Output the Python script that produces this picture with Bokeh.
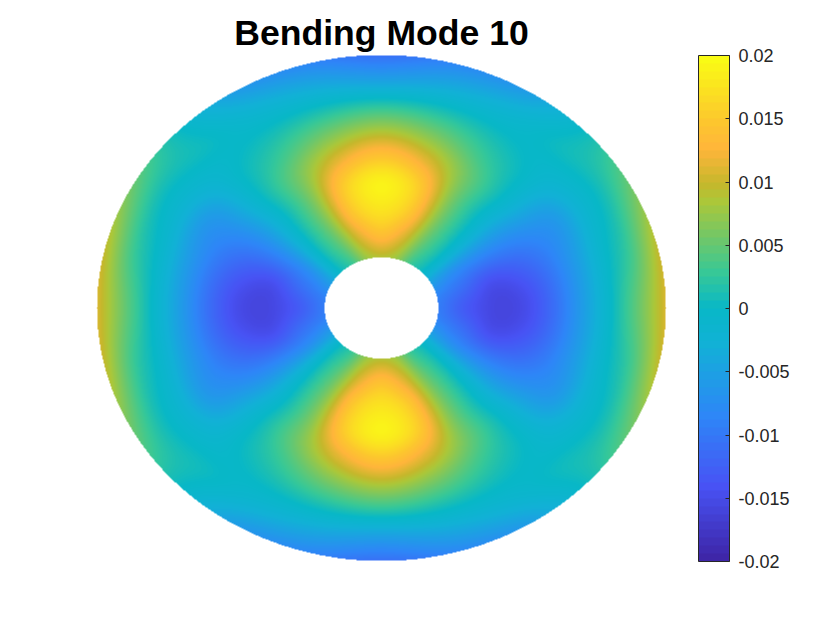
import numpy as np
from bokeh.plotting import figure
from bokeh.models import LinearColorMapper, ColorBar, FixedTicker, Range1d
from bokeh.embed import file_html
from bokeh.resources import INLINE

TITLE = "Bending Mode 10"
CBAR_TICKS = [-0.02, -0.015, -0.01, -0.005, 0, 0.005, 0.01, 0.015, 0.02]
CBAR_LABELS = ["-0.02", "-0.015", "-0.01", "-0.005", "0", "0.005", "0.01", "0.015", "0.02"]

# Colormap anchors
CMAP_POS = [0, 0.143, 0.286, 0.429, 0.5, 0.571, 0.714, 0.75, 0.82, 0.875, 1]
CMAP_RGB = [(0.2422, 0.1504, 0.6603), (0.2810, 0.3228, 0.9579), (0.1786, 0.5289, 0.9682),
            (0.0689, 0.6948, 0.8394), (0.03, 0.72, 0.78), (0.2161, 0.7843, 0.5923),
            (0.6720, 0.7793, 0.2227), (0.77, 0.72, 0.17), (1.0, 0.71, 0.23),
            (0.99, 0.78, 0.18), (0.9769, 0.9839, 0.0805)]

# Displacement: rows = angle in the first quadrant, columns = radius
RHO = [0.2, 0.3, 0.4, 0.5, 0.6, 0.7, 0.8, 0.9, 1.0]
THETA = [0, 15, 30, 45, 60, 75, 90]
W_0 = [-.0095, -.0135, -.0158, -.0152, -.0115, -.006, -.0005, .005, .011]
W_15 = [-.0085, -.0115, -.0145, -.0135, -.0105, -.006, -.001, .003, .0095]
W_30 = [-.005, -.0075, -.0085, -.0085, -.0075, -.006, -.002, .001, .005]
W_45 = [0, 0, -.0005, -.001, -.0005, -.0005, -.0005, .0005, 0]
W_60 = [.003, .005, .006, .006, .0055, .003, .0005, -.002, -.006]
W_75 = [.0075, .0115, .015, .0155, .0115, .0065, .0015, -.0035, -.0085]
W_90 = [.009, .0145, .018, .019, .0145, .0085, .002, -.005, -.011]
TABLE = [W_0, W_15, W_30, W_45, W_60, W_75, W_90]


def shade(q, nodes, vals):
    """Catmull-Rom shading between table nodes; vals has ghost nodes at both ends."""
    i = np.clip(np.searchsorted(nodes, q, side="right") - 1, 0, len(nodes) - 2)
    t = (q - nodes[i]) / (nodes[i + 1] - nodes[i])
    p0, p1, p2, p3 = vals[i], vals[i + 1], vals[i + 2], vals[i + 3]
    return 0.5 * (2 * p1 + (p2 - p0) * t + (2 * p0 - 5 * p1 + 4 * p2 - p3) * t ** 2
                  + (3 * p1 - p0 - 3 * p2 + p3) * t ** 3)


def field(nx, ny):
    X, Y = np.meshgrid(np.linspace(-1, 1, nx), np.linspace(-1, 1, ny))
    R = np.hypot(X, Y)
    A = np.degrees(np.arctan2(np.abs(Y), np.abs(X)))
    rho = np.array(RHO)
    theta = np.array(THETA, float)
    tab = np.array(TABLE)
    # ghost rows come from mirroring across the axes, ghost columns from the end slope
    tab = np.vstack([tab[1], tab, tab[-2]])
    tab = np.hstack([2 * tab[:, :1] - tab[:, 1:2], tab, 2 * tab[:, -1:] - tab[:, -2:-1]])
    r = np.clip(R, rho[0], rho[-1])
    per_angle = np.stack([shade(r, rho, row) for row in tab])
    jj, ii = np.indices(A.shape)
    i = np.clip(np.searchsorted(theta, A, side="right") - 1, 0, len(theta) - 2)
    t = (A - theta[i]) / (theta[i + 1] - theta[i])
    p0, p1, p2, p3 = (per_angle[i + k, jj, ii] for k in range(4))
    Z = 0.5 * (2 * p1 + (p2 - p0) * t + (2 * p0 - 5 * p1 + 4 * p2 - p3) * t ** 2
               + (3 * p1 - p0 - 3 * p2 + p3) * t ** 3)
    Z[(R > 1) | (R < rho[0])] = np.nan
    return Z


def make_palette(n):
    rgb = np.array(CMAP_RGB)
    out = []
    for f in np.linspace(0, 1, n):
        c = [int(round(255 * np.interp(f, CMAP_POS, rgb[:, j]))) for j in range(3)]
        out.append("#%02x%02x%02x" % tuple(c))
    return out


low, high = CBAR_TICKS[0], CBAR_TICKS[-1]
field_mapper = LinearColorMapper(palette=make_palette(256), low=low, high=high, nan_color=(0, 0, 0, 0))
bar_mapper = LinearColorMapper(palette=make_palette(64), low=low, high=high)

p = figure(frame_width=570, frame_height=507, width=832, height=622, output_backend="svg", toolbar_location=None,
           x_range=Range1d(-1, 1), y_range=Range1d(-1, 1), min_border_left=96, min_border_top=54,
           min_border_bottom=61, min_border_right=0, outline_line_color=None, title=TITLE)
p.title.align = "center"
p.title.text_font = "Liberation Sans"
p.title.text_font_style = "bold"
p.title.text_font_size = "35.6px"
p.title.text_color = "#000000"
p.title.standoff = 4
p.axis.visible = False
p.grid.visible = False

p.image(image=[field(570, 507)], x=-1, y=-1, dw=2, dh=2, color_mapper=field_mapper)

bar = ColorBar(color_mapper=bar_mapper, width=31, height=506, padding=0, margin=0, location=(32, 0),
               ticker=FixedTicker(ticks=CBAR_TICKS),
               major_label_overrides={t: l for t, l in zip(CBAR_TICKS, CBAR_LABELS)},
               major_label_text_font="Liberation Sans", major_label_text_font_size="18px",
               major_label_text_color="#262626", major_tick_line_color="#262626", major_tick_in=4, major_tick_out=0,
               minor_tick_line_color=None, bar_line_color="#262626", bar_line_width=1, label_standoff=9,
               background_fill_alpha=0.0)
p.add_layout(bar, "right")

open("out.html", "w").write(file_html(p, INLINE))
